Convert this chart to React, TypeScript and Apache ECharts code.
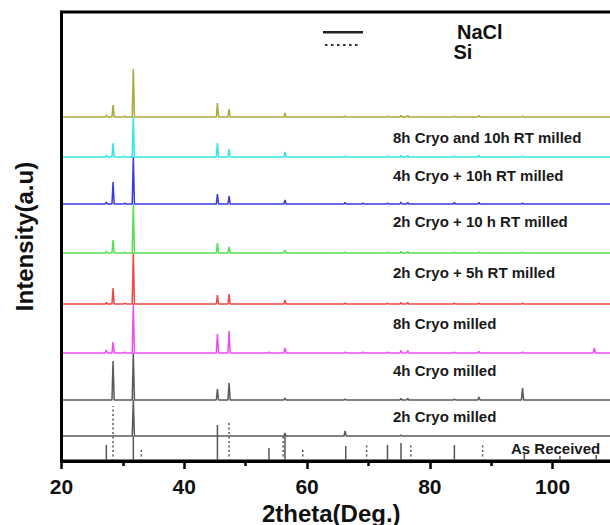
import React, { useEffect, useRef } from "react";
import * as echarts from "echarts";

// ---------- data ----------
const xMin = 20;
const xMax = 110;
const xInterval = 20;
const traceStart = 19.1;

// peak positions (2theta, deg) shared by all milled samples
const peakPos = [27.3, 28.4, 30.3, 31.7, 45.4, 47.3, 53.8, 56.4, 66.2, 69.1, 73.1, 75.3, 76.4, 84.0, 88.0, 95.1, 106.8];

// trace names (top to bottom)
const traceNames = [
  "Top trace",
  "8h Cryo and 10h RT milled",
  "4h Cryo + 10h RT milled",
  "2h Cryo + 10 h RT milled",
  "2h Cryo + 5h RT milled",
  "8h Cryo milled",
  "4h Cryo milled",
  "2h Cryo milled",
];
// vertical offset of each trace (a.u.)
const traceOffsets = [344, 304, 257, 208, 157, 108, 61, 25];
// peak heights (a.u.) per trace, aligned with peakPos
const peaksTop = [2, 12, 1, 48, 14, 8, 0, 4, 1, 0, 1, 1.5, 1.5, 1, 1.5, 1, 0];
const peaks8hCryo10hRT = [2, 14, 1, 40, 14, 8, 0, 5, 1, 0, 1, 1.5, 1.5, 1, 1.5, 1, 0];
const peaks4hCryo10hRT = [2, 22, 1, 47, 10, 8, 0, 4, 1.5, 1, 1, 2, 1.5, 1.5, 1.5, 1, 0];
const peaks2hCryo10hRT = [2, 13, 1, 49, 10, 6, 0, 3, 1, 0, 1, 1.5, 1.5, 1, 1, 1, 0];
const peaks2hCryo5hRT = [1.5, 16, 1, 51, 9, 10, 0, 4, 1, 0, 1, 1.5, 1.5, 1, 1, 1, 0];
const peaks8hCryo = [3, 11, 1, 49, 19, 22, 1, 5, 1, 1, 1, 2.5, 2.5, 1, 1.5, 1, 5];
const peaks4hCryo = [0, 39, 0, 47, 11, 17, 0, 2, 1, 0, 0, 1.5, 1.5, 1, 3, 12, 0];
const peaks2hCryo = [0, 0, 0, 36, 0, 0, 0, 3, 5, 0, 0, 1, 0, 0, 0, 0, 0];
const tracePeaks = [
  peaksTop, peaks8hCryo10hRT, peaks4hCryo10hRT, peaks2hCryo10hRT,
  peaks2hCryo5hRT, peaks8hCryo, peaks4hCryo, peaks2hCryo,
];

// reference ("As Received") stick patterns: [2theta, relative height]
const naclSticks: [number, number][] = [
  [27.3, 16], [31.7, 25], [45.4, 36], [53.8, 13], [56.4, 26], [66.3, 15],
  [73.1, 16], [75.3, 18], [84.0, 16], [95.4, 7], [101.2, 5], [107.1, 6],
];
const siSticks: [number, number][] = [
  [28.4, 55], [33.0, 11], [47.3, 38], [56.1, 26], [59.3, 11], [69.7, 16], [76.9, 17], [88.6, 18],
];
const legendNames = ["NaCl", "Si"];

// ---------- styles / layout ----------
const FONT = '"Liberation Sans", Arial, Helvetica, sans-serif';
const traceColors = ["#a9a93c", "#30e6ea", "#3a3ade", "#52e052", "#f04646", "#ee4cee", "#5a5a5a", "#5a5a5a"];
const labelTexts = [...traceNames.slice(1), "As Received"];
const labelLayout: [number, number][] = [
  [393, 137], [393, 175], [393, 221], [393, 272], [393, 323], [393, 370], [393, 416], [511, 448],
];
const HW = 0.18;

function traceData(base: number, heights: number[]) {
  const pts: (number | string)[][] = [[traceStart, base]];
  peakPos.forEach((p, i) => {
    const h = heights[i];
    if (!h) return;
    pts.push([p - HW, base], [p, base + h], [p + HW, base]);
  });
  pts.push([xMax, base]);
  return pts;
}

function stickData(list: [number, number][]) {
  const pts: (number | string)[][] = [];
  list.forEach(([p, h]) => {
    pts.push([p, 0], [p, h], [p, "-"]);
  });
  return pts;
}

export default function App() {
  const ref = useRef<HTMLDivElement>(null);
  useEffect(() => {
    document.body.style.margin = "0";
    if (!ref.current) return;
    const chart = echarts.init(ref.current, undefined, { renderer: "svg" });

    const traceSeries = traceNames.map((name, i) => ({
      name,
      type: "line",
      data: traceData(traceOffsets[i], tracePeaks[i]),
      symbol: "none",
      clip: false,
      lineStyle: { color: traceColors[i], width: 1.5 },
      itemStyle: { color: traceColors[i] },
      z: 2 + (traceNames.length - i) * 0.01,
    }));

    const legendGraphic = [
      { type: "line", shape: { x1: 323, y1: 32.3, x2: 363, y2: 32.3 }, style: { stroke: "#222", lineWidth: 2.5 } },
      { type: "line", shape: { x1: 325, y1: 45, x2: 361, y2: 45 }, style: { stroke: "#333", lineWidth: 2, lineDash: [2.5, 3.5] } },
      { type: "text", x: 457, y: 32, style: { text: legendNames[0], font: `bold 20px ${FONT}`, fill: "#111", verticalAlign: "middle" } },
      { type: "text", x: 453.5, y: 52, style: { text: legendNames[1], font: `bold 20px ${FONT}`, fill: "#111", verticalAlign: "middle" } },
    ];

    chart.setOption({
      animation: false,
      backgroundColor: "#fff",
      grid: {
        left: 61.5,
        right: -4,
        top: 12,
        bottom: 64,
        show: true,
        borderColor: "#000",
        borderWidth: 3,
        outerBoundsMode: "none",
        containLabel: false,
      },
      xAxis: {
        type: "value",
        min: xMin,
        max: xMax,
        interval: xInterval,
        z: 5,
        name: "2theta(Deg.)",
        nameLocation: "middle",
        nameGap: 40,
        nameMoveOverlap: false,
        nameTextStyle: { fontFamily: FONT, fontSize: 24, fontWeight: "bold", color: "#111", padding: [0, 13, 0, 0] },
        axisLine: { lineStyle: { color: "#000", width: 3 } },
        axisTick: { length: 8, lineStyle: { color: "#000", width: 2.5 } },
        minorTick: { show: true, splitNumber: 2, length: 5, lineStyle: { color: "#000", width: 2.5 } },
        axisLabel: { fontFamily: FONT, fontSize: 21, fontWeight: "bold", color: "#111", margin: 15, showMaxLabel: false },
        splitLine: { show: false },
        minorSplitLine: { show: false },
      },
      yAxis: {
        type: "value",
        min: 0,
        max: 449,
        z: 5,
        name: "Intensity(a.u)",
        nameLocation: "middle",
        nameGap: 25,
        nameMoveOverlap: false,
        nameTextStyle: { fontFamily: FONT, fontSize: 24, fontWeight: "bold", color: "#111" },
        axisLine: { show: true, lineStyle: { color: "#000", width: 3 } },
        axisTick: { show: false },
        axisLabel: { show: false },
        splitLine: { show: false },
      },
      series: [
        ...traceSeries,
        {
          name: legendNames[0],
          type: "line",
          data: stickData(naclSticks),
          symbol: "none",
          connectNulls: false,
          lineStyle: { color: "#555", width: 1.5 },
          itemStyle: { color: "#555" },
        },
        {
          name: legendNames[1],
          type: "line",
          data: stickData(siSticks),
          symbol: "none",
          connectNulls: false,
          lineStyle: { color: "#555", width: 1.5, type: [2, 2.5] },
          itemStyle: { color: "#555" },
        },
      ],
      graphic: [
        ...legendGraphic,
        ...labelTexts.map((t, i) => ({
          type: "text",
          x: labelLayout[i][0],
          y: labelLayout[i][1],
          z: 10,
          style: {
            text: t,
            font: `bold 15px ${FONT}`,
            fill: "#1a1a1a",
            verticalAlign: "middle",
          },
        })),
      ],
    });
    return () => chart.dispose();
  }, []);
  return <div ref={ref} style={{ width: 610, height: 525 }} />;
}
